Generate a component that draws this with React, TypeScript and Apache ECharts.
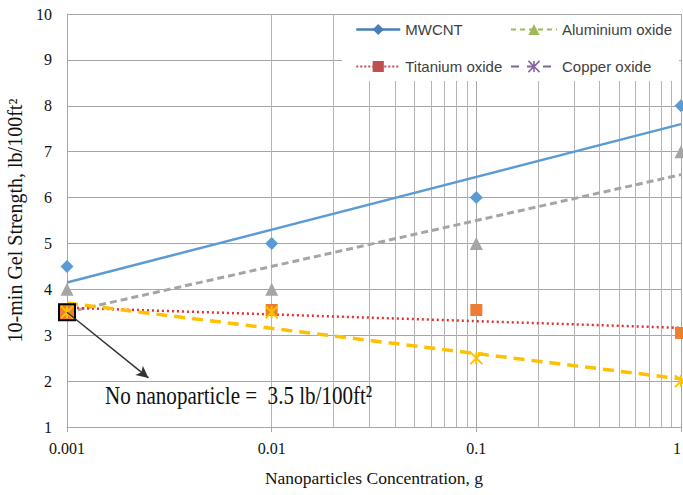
import React, { useEffect, useRef } from 'react';
import * as echarts from 'echarts';

// ---- data ----
const concentrations = [0.001, 0.01, 0.1, 1];
const mwcntValues = [4.5, 5.0, 6.0, 8.0];
const aluminiumValues = [4.0, 4.0, 5.0, 7.0];
const titaniumValues = [3.5, 3.55, 3.55, 3.05];
const copperValues = [3.5, 3.5, 2.5, 2.0];

// trend lines (straight in log-x), endpoints
const trendX = [0.001, 1];
const mwcntTrend = [4.15, 7.6];
const aluminiumTrend = [3.5, 6.5];
const titaniumTrend = [3.6, 3.16];
const copperTrend = [3.7, 2.05];

const xTickValues = [0.001, 0.01, 0.1, 1];
const xTickLabels = ['0.001', '0.01', '0.1', '1'];
const minorGridValues = [
  0.002, 0.003, 0.004, 0.005, 0.006, 0.007, 0.008, 0.009,
  0.02, 0.03, 0.04, 0.05, 0.06, 0.07, 0.08, 0.09,
  0.2, 0.3, 0.4, 0.5, 0.6, 0.7, 0.8, 0.9,
];

const baselinePoint = [0.001, 3.5];
const arrowEnd = [0.0025, 2.07];
const annotationText = 'No nanoparticle =  3.5 lb/100ft²';

const pairs = (xs: number[], ys: number[]) => xs.map((x, i) => [x, ys[i]]);

const SERIF = 'Liberation Serif';
const GRID = '#a6a6a6';

export default function App() {
  const ref = useRef<HTMLDivElement>(null);

  useEffect(() => {
    document.body.style.margin = '0';
    const chart = echarts.init(ref.current!, null, { renderer: 'svg' });

    const titaniumData: any[] = pairs(concentrations, titaniumValues).map((p) =>
      p[0] === baselinePoint[0] && p[1] === baselinePoint[1]
        ? { value: p, symbolSize: 16, itemStyle: { borderColor: '#000', borderWidth: 2 } }
        : p
    );

    const option: any = {
      animation: false,
      backgroundColor: '#fff',
      grid: { left: 67, right: 2, top: 14, bottom: 68, containLabel: false, outerBoundsMode: 'none' },
      xAxis: {
        type: 'log',
        logBase: 10,
        min: 0.001,
        max: 1,
        name: 'Nanoparticles Concentration, g',
        nameLocation: 'middle',
        nameGap: 42,
        nameTextStyle: { fontFamily: SERIF, fontSize: 17.5, color: '#111' },
        axisLine: { show: true, lineStyle: { color: GRID, width: 1 } },
        axisTick: { show: true, length: 5, lineStyle: { color: GRID } },
        axisLabel: {
          fontFamily: SERIF,
          fontSize: 16,
          color: '#111',
          margin: 13,
          alignMaxLabel: 'right',
          formatter: (v: number) => {
            let best = 0;
            xTickValues.forEach((t, i) => {
              if (Math.abs(Math.log10(t) - Math.log10(v)) < Math.abs(Math.log10(xTickValues[best]) - Math.log10(v))) best = i;
            });
            return xTickLabels[best];
          },
        },
        splitLine: { show: true, lineStyle: { color: GRID, width: 1 } },
      },
      yAxis: {
        type: 'value',
        min: 1,
        max: 10,
        interval: 1,
        name: '10-min Gel Strength, lb/100ft²',
        nameLocation: 'middle',
        nameGap: 38,
        nameTextStyle: { fontFamily: SERIF, fontSize: 20, color: '#111' },
        axisLine: { show: true, lineStyle: { color: GRID, width: 1 } },
        axisTick: { show: false },
        axisLabel: { fontFamily: SERIF, fontSize: 16, color: '#111', margin: 15 },
        splitLine: { show: true, lineStyle: { color: GRID, width: 1 } },
      },
      legend: [
        {
          orient: 'vertical',
          left: 350,
          top: 17,
          itemWidth: 44,
          itemHeight: 14,
          itemGap: 22,
          z: 5,
          textStyle: { fontFamily: 'Liberation Sans', fontSize: 15, color: '#404040' },
          data: [
            {
              name: 'MWCNT',
              itemStyle: { color: '#4a7ebb', borderWidth: 0 },
              lineStyle: { color: '#4a7ebb', width: 2.5, type: 'solid' },
            },
            {
              name: 'Titanium oxide',
              itemStyle: { color: '#c0504d', borderWidth: 0 },
              lineStyle: { color: '#c0504d', width: 2, type: [2, 2] },
            },
          ],
        },
        {
          orient: 'vertical',
          left: 505,
          top: 17,
          itemWidth: 46,
          itemHeight: 14,
          itemGap: 22,
          z: 5,
          textStyle: { fontFamily: 'Liberation Sans', fontSize: 15, color: '#404040' },
          data: [
            {
              name: 'Aluminium oxide',
              itemStyle: { color: '#9bbb59', borderWidth: 0 },
              lineStyle: { color: '#9bbb59', width: 2, type: [5, 4] },
            },
            {
              name: 'Copper oxide',
              itemStyle: { color: '#b3a2c7', borderColor: '#8064a2', borderWidth: 1.5 },
              lineStyle: { color: '#8064a2', width: 2, type: [8, 8] },
            },
          ],
        },
      ],
      graphic: [
        {
          type: 'rect',
          z: 3,
          silent: true,
          shape: { x: 342, y: 15, width: 337, height: 66 },
          style: { fill: '#fff' },
        },
        {
          type: 'text',
          z: 6,
          x: 105,
          y: 395,
          scaleX: 0.81,
          silent: true,
          style: {
            text: annotationText,
            fontFamily: SERIF,
            fontSize: 26,
            fill: '#111',
            align: 'left',
            verticalAlign: 'middle',
          },
        },
      ],
      series: [
        {
          name: 'MWCNT trend',
          type: 'line',
          z: 2,
          data: pairs(trendX, mwcntTrend),
          showSymbol: false,
          silent: true,
          lineStyle: { color: '#5b9bd5', width: 2.5, type: 'solid' },
          markLine: {
            silent: true,
            z: 1,
            symbol: ['none', 'none'],
            label: { show: false },
            lineStyle: { color: '#b4b4b4', width: 1, type: 'solid' },
            data: minorGridValues.map((v) => ({ xAxis: v })),
          },
        },
        {
          name: 'Aluminium oxide trend',
          type: 'line',
          z: 2,
          data: pairs(trendX, aluminiumTrend),
          showSymbol: false,
          silent: true,
          lineStyle: { color: '#a5a5a5', width: 3, type: [7, 4] },
        },
        {
          name: 'Titanium oxide trend',
          type: 'line',
          z: 2,
          data: pairs(trendX, titaniumTrend),
          showSymbol: false,
          silent: true,
          lineStyle: { color: '#e0302f', width: 2.5, type: [2, 3] },
        },
        {
          name: 'Copper oxide trend',
          type: 'line',
          z: 2,
          data: pairs(trendX, copperTrend),
          showSymbol: false,
          silent: true,
          lineStyle: { color: '#ffc000', width: 3.5, type: [11, 7] },
        },
        {
          name: 'MWCNT',
          type: 'line',
          z: 3,
          data: pairs(concentrations, mwcntValues),
          symbol: 'diamond',
          symbolSize: 13,
          itemStyle: { color: '#5b9bd5', borderWidth: 0 },
          lineStyle: { width: 0 },
        },
        {
          name: 'Aluminium oxide',
          type: 'line',
          z: 3,
          data: pairs(concentrations, aluminiumValues),
          symbol: 'triangle',
          symbolSize: 13,
          itemStyle: { color: '#a5a5a5', borderWidth: 0 },
          lineStyle: { width: 0 },
        },
        {
          name: 'Titanium oxide',
          type: 'line',
          z: 3,
          data: titaniumData,
          symbol: 'rect',
          symbolSize: 12,
          itemStyle: { color: '#ed7d31', borderWidth: 0 },
          lineStyle: { width: 0 },
          markLine: {
            silent: true,
            symbol: ['none', 'arrow'],
            symbolSize: [9, 12],
            label: { show: false },
            lineStyle: { color: '#333', width: 1.5, type: 'solid' },
            data: [[{ coord: baselinePoint }, { coord: arrowEnd }]],
          },
        },
        {
          name: 'Copper oxide',
          type: 'line',
          z: 4,
          data: pairs(concentrations, copperValues),
          symbol: 'path://M0,0L10,10M0,10L10,0M5,0L5,10',
          symbolSize: 12,
          itemStyle: { color: '#ffc000', borderColor: '#ffc000', borderWidth: 2 },
          lineStyle: { width: 0 },
        },
      ],
    };

    chart.setOption(option);
    return () => chart.dispose();
  }, []);

  return (
    <div
      ref={ref}
      style={{ position: 'fixed', left: 0, top: 0, width: 683, height: 495, background: '#fff' }}
    />
  );
}
